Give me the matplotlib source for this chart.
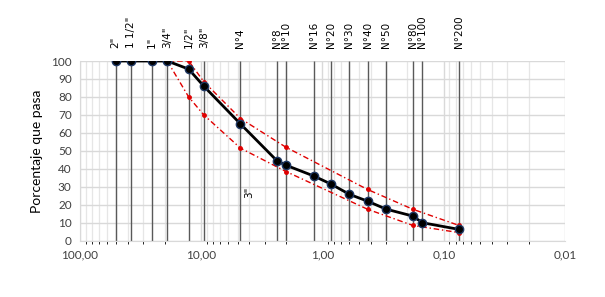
import matplotlib.pyplot as plt
from matplotlib.ticker import FixedLocator, LogLocator, NullFormatter

plt.rcParams['font.family'] = ['Lato', 'DejaVu Sans']

# sieve sizes (mm) and names
sieves = ['2"', '1 1/2"', '1"', '3/4"', '1/2"', '3/8"', 'N°4', 'N°8', 'N°10',
          'N°16', 'N°20', 'N°30', 'N°40', 'N°50', 'N°80', 'N°100', 'N°200']
openings = [50.8, 38.1, 25.4, 19.05, 12.7, 9.525, 4.75, 2.36, 2.0,
            1.18, 0.85, 0.6, 0.425, 0.3, 0.18, 0.15, 0.075]
passing = [100, 100, 100, 100, 95.5, 86, 65, 44.3, 42, 36, 31.5, 25.8,
           22, 17.6, 13.7, 10, 6.3]

# band limits
upper_x = [25.4, 19.05, 12.7, 9.525, 4.75, 2.0, 0.425, 0.18, 0.075]
upper_y = [100, 100, 100, 88.5, 68, 52, 28.5, 17.5, 8.5]
lower_x = [19.05, 12.7, 9.525, 4.75, 2.0, 0.425, 0.18, 0.075]
lower_y = [100, 80, 70, 51.5, 38.5, 17.5, 8.5, 4.5]

xticks = [100, 10, 1, 0.1, 0.01]
xticklabels = ['100,00', '10,00', '1,00', '0,10', '0,01']

fig = plt.figure(figsize=(6.05, 2.97), dpi=100)
ax = fig.add_axes([0.1322, 0.1896, 0.8017, 0.605])
ax.set_xscale('log')
ax.set_xlim(100, 0.01)
ax.set_ylim(0, 100)

ax.xaxis.set_major_locator(FixedLocator(xticks))
ax.set_xticklabels(xticklabels)
ax.xaxis.set_minor_locator(LogLocator(base=10, subs=range(2, 10)))
ax.xaxis.set_minor_formatter(NullFormatter())
ax.set_yticks(range(0, 101, 10))
ax.grid(True, which='major', color='#d9d9d9', lw=1)
ax.grid(True, which='minor', axis='x', color='#e6e6e6', lw=0.9)
ax.tick_params(length=0, labelsize=8.5, colors='#404040', pad=6)
for s in ['top', 'right']:
    ax.spines[s].set_visible(False)
for s in ['left', 'bottom']:
    ax.spines[s].set_color('#d9d9d9')

for name, d in zip(sieves, openings):
    ax.vlines(d, 0, 100, color='#595959', lw=1, zorder=2)
    ax.text(d, 107, name, rotation=90, ha='center', va='bottom', fontsize=7.5,
            family='DejaVu Sans')

ax.text(4.0, 27, '3"', rotation=90, ha='center', va='center', fontsize=7.5,
        family='DejaVu Sans')

ax.plot(upper_x, upper_y, color='#e00000', lw=1, dashes=(4, 2, 1, 2),
        marker='o', ms=2.5, zorder=3)
ax.plot(lower_x, lower_y, color='#e00000', lw=1, dashes=(4, 2, 1, 2),
        marker='o', ms=2.5, zorder=3)
ax.plot(openings, passing, color='black', lw=2, marker='o', ms=6,
        mfc='black', mec='#1f3864', mew=1, zorder=4)

ax.set_ylabel('Porcentaje que pasa', fontsize=10, labelpad=6)

fig.savefig('out.png', dpi=100)
